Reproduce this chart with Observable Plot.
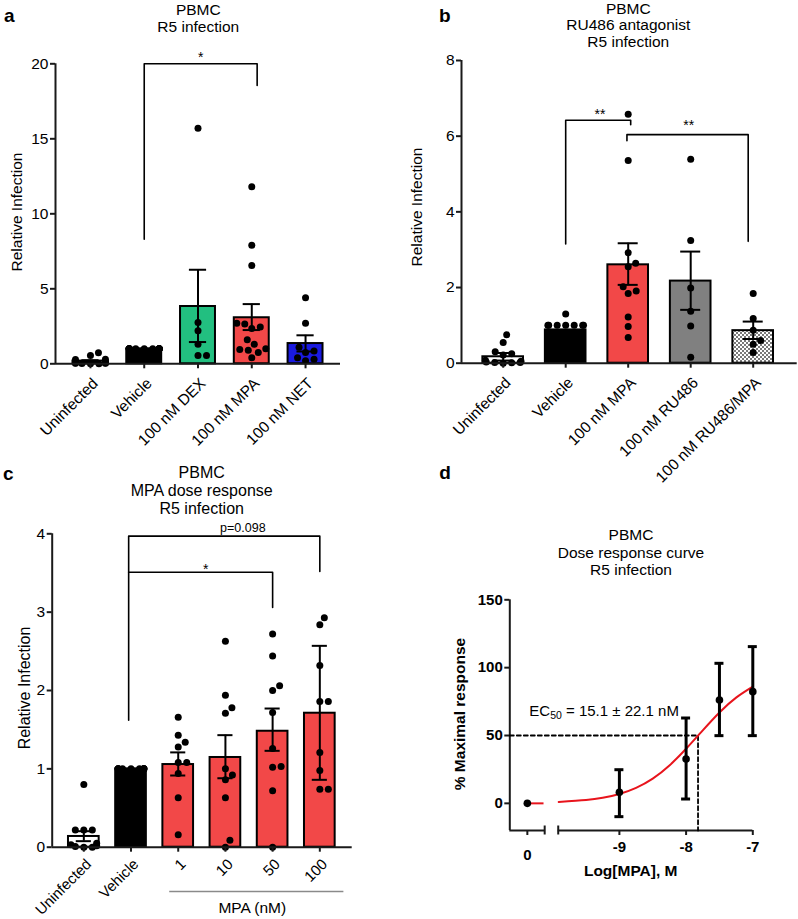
<!DOCTYPE html>
<html><head><meta charset="utf-8">
<script src="https://cdn.jsdelivr.net/npm/d3@7"></script>
<script src="https://cdn.jsdelivr.net/npm/@observablehq/plot@0.6"></script>
<style>
body{margin:0;background:#fff;}
#page{position:relative;width:798px;height:919px;font-family:"Liberation Sans",Arial,sans-serif;color:#000;overflow:hidden;background:#fff;}
.abs{position:absolute;}
.t{position:absolute;white-space:nowrap;line-height:1;}
</style></head><body><div id="page"></div>
<script>
// ---------------- DATA ----------------
// Panel a
const catsA = ["Uninfected","Vehicle","100 nM DEX","100 nM MPA","100 nM NET"];
const meanA = [0.18, 1.0, 3.82, 3.07, 1.35];
const loA   = [0.12, 1.0, 1.45, 2.25, 0.82];
const hiA   = [0.24, 1.0, 6.27, 3.98, 1.9];
const dotsA = [
  [0.73, 0.55, 0.3, 0.28, 0.12, 0.1, 0.08, 0.06, 0.05, 0.04, 0.03, 0.02, 0.01, 0.0],
  [1,1,1,1,1,1,1,1,1,1,1,1,1,1],
  [15.7, 2.75, 2.2, 1.3, 0.55, 0.55],
  [11.8, 7.9, 6.55, 2.7, 2.65, 2.45, 2.35, 1.6, 1.3, 1.0, 0.95, 0.9, 0.75, 0.4],
  [4.4, 2.7, 1.1, 0.85, 0.75, 0.4, 0.3, 0.2]
];
const fillsA = ["#ffffff","#000000","#22bf80","#f24848","#1a1ae0"];
const ticksA = [0, 5, 10, 15, 20];
const bracketsA = [{from:1, to:3.1, yFrom:8.3, yTop:20, yTo:18.55, label:"*", labelX:2.05, dy:-6}];

// Panel b
const catsB = ["Uninfected","Vehicle","100 nM MPA","100 nM RU486","100 nM RU486/MPA"];
const meanB = [0.17, 0.88, 2.6, 2.17, 0.86];
const loB   = [0.07, 0.88, 2.07, 1.41, 0.64];
const hiB   = [0.27, 0.88, 3.17, 2.95, 1.1];
const dotsB = [
  [0.75, 0.55, 0.3, 0.25, 0.22, 0.08, 0.05, 0.03, 0.02, 0.02, 0.01, 0.0],
  [1.3, 1, 1, 1, 1, 1, 1, 1, 0.4, 0.2],
  [6.58, 5.36, 2.92, 2.64, 2.55, 2.02, 1.91, 1.84, 1.22, 0.97, 0.68],
  [5.39, 3.24, 1.99, 1.37, 0.98, 0.16],
  [1.84, 1.18, 0.87, 0.6, 0.5, 0.28]
];
const fillsB = ["#ffffff","#000000","#f24848","#808080","url(#checker)"];
const ticksB = [0, 2, 4, 6, 8];
const bracketsB = [
  {from:1, to:2.04, yFrom:3.15, yTop:6.42, yTo:6.3, label:"**", labelX:1.55, dy:-6},
  {from:1.98, to:3.92, yFrom:5.88, yTop:6.04, yTo:3.22, label:"**", labelX:2.97, dy:-9}
];

// Panel c
const catsC = ["Uninfected","Vehicle","1","10","50","100"];
const meanC = [0.137, 1.0, 1.055, 1.145, 1.48, 1.71];
const loC   = [0.077, 1.0, 0.915, 0.88, 1.23, 0.86];
const hiC   = [0.204, 1.0, 1.21, 1.43, 1.77, 2.57];
const dotsC = [
  [0.8, 0.22, 0.22, 0.22, 0.05, 0.03, 0.02, 0.01, 0.0, 0.0],
  [1,1,1,1,1,1,1,1,1,1],
  [1.66, 1.43, 1.34, 1.28, 1.08, 1.08, 0.94, 0.63, 0.16],
  [2.63, 1.94, 1.78, 1.71, 1.0, 0.92, 0.86, 0.63, 0.09, 0.0],
  [2.72, 2.44, 2.06, 2.0, 1.72, 1.26, 1.03, 1.02, 0.72, 0.0],
  [2.93, 2.84, 2.32, 1.86, 1.86, 1.21, 0.98, 0.74, 0.74]
];
const fillsC = ["#ffffff","#000000","#f24848","#f24848","#f24848","#f24848"];
const ticksC = [0, 1, 2, 3, 4];
const bracketsC = [
  {from:0.95, to:5, yFrom:1.62, yTop:3.97, yTo:3.52, label:"p=0.098", labelX:3.37, dy:-8.5, fs:12.5},
  {from:0.95, to:4, yFrom:3.51, yTop:3.51, yTo:3.06, label:"*", labelX:2.58, dy:-3}
];
const doseGroupC = {label:"MPA (nM)", from:1.82, to:5.51, labelX:3.57};

// Panel d
const dLogDose = [0, -9, -8, -7.5, -7];        // 0 = no MPA (left of axis break)
const dMean = [0, 8.1, 32.7, 76.2, 82.3];
const dLo   = [0, -9.8, 3.2, 49.9, 49.9];
const dHi   = [0, 24.8, 62.9, 103.2, 115.5];
const dTickVals = [0, -9, -8, -7];
const dTickLabels = ["0", "-9", "-8", "-7"];
const dYTicks = [0, 50, 100, 150];
const fitLog = [-9.91, -9.5, -9.25, -9, -8.75, -8.5, -8.25, -8, -7.75, -7.5, -7.25, -7];
const fitResp = [1.0, 2.4, 4.1, 6.9, 11.4, 18.2, 27.9, 40.2, 53.8, 67.0, 77.9, 86.0];
const ec50nM = 15.1;

// ---------------- HELPERS ----------------
const FONT = '"Liberation Sans", Arial, sans-serif';
const TICK = 15.5, LAB = 15.5;
const page = document.getElementById("page");

function place(el, left, top) {
  const d = document.createElement("div");
  d.className = "abs"; d.style.left = left + "px"; d.style.top = top + "px";
  d.appendChild(el); page.appendChild(d);
}
function txt(html, x, y, o = {}) {
  const d = document.createElement("div");
  d.className = "t";
  d.innerHTML = html;
  d.style.left = x + "px"; d.style.top = y + "px";
  d.style.fontSize = (o.size || LAB) + "px";
  d.style.fontWeight = o.weight || "normal";
  const tx = o.anchor === "start" ? "0" : o.anchor === "end" ? "-100%" : "-50%";
  d.style.transform = `translate(${tx},-50%)` + (o.rotate ? ` rotate(${o.rotate}deg)` : "");
  page.appendChild(d);
}

function swarm(vals, yPx, r, limit) {
  const D = 2 * r + 1.2;
  const order = d3.range(vals.length).sort((a, b) => d3.ascending(vals[a], vals[b]));
  const placed = [], out = new Array(vals.length);
  for (const i of order) {
    const y = vals[i] * yPx;
    let x = 0;
    for (let k = 0; k < 4000; k++) {
      const c = k === 0 ? 0 : (k % 2 ? 1 : -1) * Math.ceil(k / 2) * 0.5;
      if (placed.every(p => (p.x - c) ** 2 + (p.y - y) ** 2 >= D * D)) { x = c; break; }
    }
    placed.push({x, y});
    out[i] = Math.max(-limit, Math.min(limit, x));
  }
  return out;
}

function barPanel(o) {
  const {cats, mean, lo, hi, dots, fills, yDomain, yTicks, xDomain, width, height, ml, mr, mt, mb, brackets} = o;
  const n = cats.length;
  const xPx = (width - ml - mr) / (xDomain[1] - xDomain[0]);
  const yPx = (height - mt - mb) / (yDomain[1] - yDomain[0]);
  const half = 0.325, cap = 0.16, r = 3.5;
  const tickFs = o.tickFs || TICK, labDy = o.labDy || 17;
  const bars = cats.map((c, i) => ({i, mean: mean[i], lo: lo[i], hi: hi[i], fill: fills[i]}));
  const errs = bars.filter(b => b.hi > b.lo);
  const pts = [];
  dots.forEach((vals, i) => {
    const off = swarm(vals, yPx, r, half * xPx - 2.5);
    vals.forEach((v, k) => pts.push({x: i + off[k] / xPx, v}));
  });
  const brLines = brackets.flatMap((b, j) => [
    {j, x: b.from, y: b.yFrom}, {j, x: b.from, y: b.yTop}, {j, x: b.to, y: b.yTop}, {j, x: b.to, y: b.yTo}
  ]);
  const idx = d3.range(n);
  const marks = [
    ...bars.map(b => Plot.rect([b], {x1: d => d.i - half, x2: d => d.i + half, y1: 0, y2: "mean",
      fill: b.fill, stroke: "#000", strokeWidth: 2})),
    Plot.ruleX(errs, {x: "i", y1: "lo", y2: "hi", stroke: "#000", strokeWidth: 2}),
    Plot.ruleY(errs, {y: "hi", x1: d => d.i - cap, x2: d => d.i + cap, stroke: "#000", strokeWidth: 2}),
    Plot.ruleY(errs, {y: "lo", x1: d => d.i - cap, x2: d => d.i + cap, stroke: "#000", strokeWidth: 2}),
    Plot.dot(pts, {x: "x", y: "v", r, fill: "#000"}),
    // axis lines
    Plot.ruleY([yDomain[0]], {x1: xDomain[0], x2: xDomain[1], stroke: "#1a1a1a", strokeWidth: 2}),
    Plot.ruleX([xDomain[0]], {y1: yDomain[0], y2: yDomain[1], stroke: "#1a1a1a", strokeWidth: 2}),
    // y ticks + labels
    Plot.ruleY(yTicks, {x1: xDomain[0] - 5 / xPx, x2: xDomain[0], stroke: "#1a1a1a", strokeWidth: 2}),
    Plot.text(yTicks, {x: () => xDomain[0], y: d => d, text: d => String(d), textAnchor: "end", dx: -7, fontSize: TICK}),
    // x ticks + rotated labels
    Plot.ruleX(idx, {x: d => d, y1: yDomain[0], y2: yDomain[0] - 5 / yPx, stroke: "#1a1a1a", strokeWidth: 2}),
    Plot.text(idx, {x: d => d, y: () => yDomain[0], text: i => cats[i], rotate: -45, textAnchor: "end",
      dx: 5, dy: labDy, fontSize: tickFs}),
    // significance brackets
    Plot.line(brLines, {x: "x", y: "y", z: "j", stroke: "#000", strokeWidth: 1.6}),
    ...brackets.map(b => Plot.text([b], {x: "labelX", y: "yTop", text: "label", dy: b.dy, fontSize: b.fs || 14}))
  ];
  if (o.extraMarks) marks.push(...o.extraMarks);
  return Plot.plot({
    width, height, marginLeft: ml, marginRight: mr, marginTop: mt, marginBottom: mb,
    x: {type: "linear", domain: xDomain, axis: null},
    y: {type: "linear", domain: yDomain, axis: null},
    style: {background: "transparent", fontFamily: FONT, fontSize: TICK + "px", overflow: "visible", color: "#000"},
    marks
  });
}

// ---------------- PANEL A ----------------
const svgA = barPanel({cats: catsA, mean: meanA, lo: loA, hi: hiA, dots: dotsA, fills: fillsA,
  yDomain: [0, 20], yTicks: ticksA, xDomain: [-0.65, 4.65],
  width: 400, height: 410, ml: 55, mr: 60, mt: 23.3, mb: 86.7, brackets: bracketsA});
place(svgA, 0, 40);

// ---------------- PANEL B ----------------
const svgB = barPanel({cats: catsB, mean: meanB, lo: loB, hi: hiB, dots: dotsB, fills: fillsB,
  yDomain: [0, 8], yTicks: ticksB, xDomain: [-0.667, 4.704],
  width: 398, height: 440, ml: 61, mr: 1.3, mt: 20, mb: 117.3, brackets: bracketsB});
{
  const defs = d3.select(svgB).insert("defs", ":first-child");
  const p = defs.append("pattern").attr("id", "checker").attr("patternUnits", "userSpaceOnUse")
    .attr("width", 4).attr("height", 4);
  p.append("rect").attr("width", 4).attr("height", 4).attr("fill", "#ffffff");
  p.append("rect").attr("width", 2).attr("height", 2).attr("fill", "#7a7a7a");
  p.append("rect").attr("x", 2).attr("y", 2).attr("width", 2).attr("height", 2).attr("fill", "#7a7a7a");
}
place(svgB, 400, 40);

// ---------------- PANEL C ----------------
const svgC = barPanel({cats: catsC, mean: meanC, lo: loC, hi: hiC, dots: dotsC, fills: fillsC,
  yDomain: [0, 4], yTicks: ticksC, xDomain: [-0.67, 5.686],
  width: 400, height: 399, ml: 51.7, mr: 48.3, mt: 13.3, mb: 72.3, brackets: bracketsC,
  tickFs: 15, labDy: 14.5,
  extraMarks: [
    Plot.ruleY([0], {x1: doseGroupC.from, x2: doseGroupC.to, dy: 44.3, stroke: "#8a8a8a", strokeWidth: 1.5}),
    Plot.text([doseGroupC], {x: "labelX", y: () => 0, text: "label", dy: 61, fontSize: LAB})
  ]});
place(svgC, 0, 520);

// ---------------- PANEL D ----------------
{
  const xMin = -10.643, xMax = -7, zeroPos = -10.38, leftEnd = -10.12, rightStart = -9.917;
  const W = 398, H = 399, ml = 109.3, mr = 45.7, mt = 79.3, mb = 89;
  const yPx = (H - mt - mb) / 170;
  const xPx = (W - ml - mr) / (xMax - xMin);
  const pos = v => v === 0 ? zeroPos : v;
  const pts = dLogDose.map((v, i) => ({x: pos(v), m: dMean[i], lo: dLo[i], hi: dHi[i]}));
  const errs = pts.filter(p => p.hi > p.lo);
  const cap = 4.5 / xPx;
  const fit = fitLog.map((x, i) => ({x, y: fitResp[i]}));
  const ec = Math.log10(ec50nM * 1e-9);
  const ticks = dTickVals.map((v, i) => ({x: pos(v), label: dTickLabels[i], zero: v === 0}));
  const svgD = Plot.plot({
    width: W, height: H, marginLeft: ml, marginRight: mr, marginTop: mt, marginBottom: mb,
    x: {type: "linear", domain: [xMin, xMax], axis: null},
    y: {type: "linear", domain: [-20, 150], axis: null},
    style: {background: "transparent", fontFamily: FONT, fontSize: "15px", fontWeight: "bold", overflow: "visible", color: "#000"},
    marks: [
      Plot.ruleX([xMin], {y1: -20, y2: 150, stroke: "#1a1a1a", strokeWidth: 2}),
      Plot.ruleY([-20], {x1: xMin, x2: leftEnd, stroke: "#1a1a1a", strokeWidth: 2}),
      Plot.ruleY([-20], {x1: rightStart, x2: xMax, stroke: "#1a1a1a", strokeWidth: 2}),
      Plot.ruleX(ticks, {x: "x", y1: -20, y2: -20 - 5 / yPx, stroke: "#1a1a1a", strokeWidth: 2}),
      Plot.ruleX([leftEnd, rightStart], {y1: -20 - 4.5 / yPx, y2: -20 + 4.5 / yPx, stroke: "#1a1a1a", strokeWidth: 2}),
      Plot.text(ticks.filter(t => !t.zero), {x: "x", y: () => -20, text: "label", dy: 17, fontSize: 15, fontWeight: "bold"}),
      Plot.text(ticks.filter(t => t.zero), {x: "x", y: () => -20, text: "label", dy: 24.5, fontSize: 15, fontWeight: "bold"}),
      Plot.ruleY(dYTicks, {x1: xMin - 5 / xPx, x2: xMin, stroke: "#1a1a1a", strokeWidth: 2}),
      Plot.text(dYTicks, {x: () => xMin, y: d => d, text: d => String(d), textAnchor: "end", dx: -7, fontSize: 15, fontWeight: "bold"}),
      Plot.line([{x: xMin, y: 50}, {x: ec, y: 50}, {x: ec, y: -20}], {x: "x", y: "y", stroke: "#000", strokeWidth: 1.8, strokeDasharray: "4,3"}),
      Plot.line(fit, {x: "x", y: "y", stroke: "#e8141c", strokeWidth: 2, curve: "natural"}),
      Plot.ruleY([0], {x1: zeroPos, x2: leftEnd - 0.01, stroke: "#e8141c", strokeWidth: 2}),
      Plot.ruleX(errs, {x: "x", y1: "lo", y2: "hi", stroke: "#000", strokeWidth: 3}),
      Plot.ruleY(errs, {y: "hi", x1: d => d.x - cap, x2: d => d.x + cap, stroke: "#000", strokeWidth: 3}),
      Plot.ruleY(errs, {y: "lo", x1: d => d.x - cap, x2: d => d.x + cap, stroke: "#000", strokeWidth: 3}),
      Plot.dot(pts, {x: "x", y: "m", r: 3.8, fill: "#000"})
    ]
  });
  place(svgD, 400, 520);
}

// ---------------- TEXT ----------------
txt("a", 4, 15, {size: 19, weight: "bold", anchor: "start"});
txt("PBMC", 198.3, 10); txt("R5 infection", 198.3, 26.5);
txt("Relative Infection", 16.7, 212, {rotate: -90});

txt("b", 439, 15, {size: 19, weight: "bold", anchor: "start"});
txt("PBMC", 628.3, 8.5); txt("RU486 antagonist", 628.3, 25.2); txt("R5 infection", 628.3, 41.8);
txt("Relative Infection", 416.7, 206.7, {rotate: -90});

txt("c", 3, 473, {size: 19, weight: "bold", anchor: "start"});
txt("PBMC", 201.7, 472.7, {size: 16}); txt("MPA dose response", 201.7, 490.7, {size: 16}); txt("R5 infection", 201.7, 508.5, {size: 16});
txt("Relative Infection", 25, 687.5, {rotate: -90, size: 16});

txt("d", 439.3, 471.7, {size: 19, weight: "bold", anchor: "start"});
txt("PBMC", 631, 535, {size: 15.5}); txt("Dose response curve", 631, 552.7, {size: 15.5}); txt("R5 infection", 631, 570, {size: 15.5});
txt("% Maximal response", 460, 714, {rotate: -90, size: 15.5, weight: "bold"});
txt("Log[MPA], M", 630.7, 870.7, {size: 15.5, weight: "bold"});
txt('EC<sub style="font-size:10.5px;vertical-align:-3px">50</sub> = 15.1 ± 22.1 nM', 529.3, 711.7, {size: 15, anchor: "start"});
</script></body></html>
